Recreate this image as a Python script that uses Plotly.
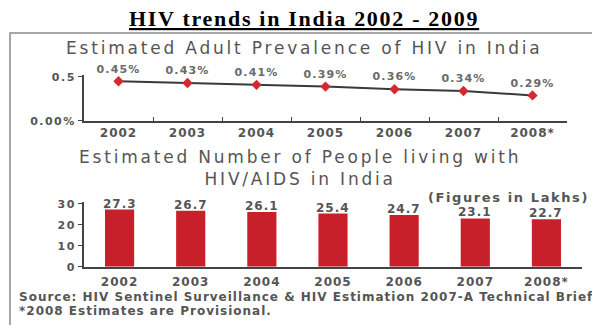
import plotly.graph_objects as go

W, H = 592, 325

years = ["2002", "2003", "2004", "2005", "2006", "2007", "2008*"]
prevalence = [0.45, 0.43, 0.41, 0.39, 0.36, 0.34, 0.29]
prevalence_labels = ["0.45%", "0.43%", "0.41%", "0.39%", "0.36%", "0.34%", "0.29%"]
plhiv = [27.3, 26.7, 26.1, 25.4, 24.7, 23.1, 22.7]
plhiv_labels = ["27.3", "26.7", "26.1", "25.4", "24.7", "23.1", "22.7"]
prev_ticks = [0, 0.5]
prev_ticktext = ["0.00%", "0.5"]
bar_ticks = [0, 10, 20, 30]
bar_ticktext = ["0", "10", "20", "30"]

GREY = "#555555"
AXIS = "#444444"
FONT = "DejaVu Sans"


def sp(text, s):
    return f"<span style='letter-spacing:{s}px'>{text}</span>"


def px_x(x):
    return x / W


def px_y(y):
    return (H - y) / H


fig = go.Figure()

fig.add_trace(go.Scatter(
    x=years, y=prevalence, mode="lines+markers+text",
    text=[sp(t, 1.2) for t in prevalence_labels], textposition="top center",
    textfont=dict(family=FONT, size=11, color="#6a6a6a", weight="bold"),
    line=dict(color="#3a3a3a", width=2),
    marker=dict(symbol="diamond", size=8, color="#d42a2f"),
    xaxis="x", yaxis="y", cliponaxis=False,
))

fig.add_trace(go.Bar(
    x=years, y=plhiv,
    marker=dict(color="#c8202a", line=dict(width=0)),
    xaxis="x2", yaxis="y2",
))

# value labels sitting on top of the bars, positioned through the bar axes
# (category axis: annotation x given as the category's serial index)
for i, (v, lab) in enumerate(zip(plhiv, plhiv_labels)):
    fig.add_annotation(x=i, y=v, xref="x2", yref="y2", text=sp(lab, 1),
                       showarrow=False, yanchor="bottom", yshift=-3,
                       font=dict(family=FONT, size=12, color=GREY, weight="bold"))

axis_common = dict(showgrid=False, zeroline=False, showline=True,
                   linecolor=AXIS, linewidth=2, tickcolor=AXIS)
xtick = dict(family=FONT, size=12, color=GREY, weight="bold")
ytick = dict(family=FONT, size=11, color=GREY, weight="bold")
year_ticktext = [sp(t, 1) for t in years]

fig.update_layout(
    width=W, height=H,
    margin=dict(l=0, r=0, t=0, b=0),
    paper_bgcolor="white", plot_bgcolor="white",
    showlegend=False,
    bargap=0.59,
    xaxis=dict(domain=[px_x(84), px_x(567)], anchor="y", type="category",
               range=[-0.5, 6.5], ticks="inside", tickson="boundaries",
               ticklen=4, tickvals=years, ticktext=year_ticktext,
               tickfont=xtick, **axis_common),
    yaxis=dict(domain=[px_y(121), px_y(73)], anchor="x", range=[0, 0.527],
               tickvals=prev_ticks, ticktext=[sp(t, 1.5) for t in prev_ticktext],
               ticks="outside", ticklen=4, tickfont=ytick, **axis_common),
    xaxis2=dict(domain=[px_x(84), px_x(582)], anchor="y2", type="category",
                range=[-0.5, 6.5], ticks="", tickvals=years,
                ticktext=year_ticktext, tickfont=xtick, ticklabelstandoff=3,
                **axis_common),
    yaxis2=dict(domain=[px_y(272), px_y(205)], anchor="x2", range=[0, 30.9],
                tickvals=bar_ticks, ticktext=[sp(t, 1.5) for t in bar_ticktext],
                ticks="outside", ticklen=4, tickfont=ytick, **axis_common),
)

fig.add_shape(type="rect", xref="paper", yref="paper",
              x0=px_x(10), x1=1.05, y0=-0.1, y1=px_y(30),
              line=dict(color="#8a8a8a", width=1.5), fillcolor="rgba(0,0,0,0)",
              layer="below")

ann = [
    dict(text="<u><b>" + sp("HIV trends in India 2002 - 2009", 1.7) + "</b></u>",
         x=px_x(304), y=px_y(15),
         font=dict(family="Liberation Serif", size=22, color="black")),
    dict(text=sp("Estimated Adult Prevalence of HIV in India", 2.8),
         x=px_x(304), y=px_y(46),
         font=dict(family=FONT, size=17, color=GREY)),
    dict(text=sp("Estimated Number of People living with", 2.8) + "<br>"
         + sp("HIV/AIDS in India", 2.8),
         x=px_x(300), y=px_y(170),
         font=dict(family=FONT, size=17, color=GREY)),
    dict(text=sp("(Figures in Lakhs)", 1.6), x=px_x(508), y=px_y(200.5),
         font=dict(family=FONT, size=13, color=GREY, weight="bold")),
    dict(text=sp("Source: HIV Sentinel Surveillance &amp; HIV Estimation 2007-A Technical Brief", 1.0),
         x=px_x(17), y=px_y(303), xanchor="left",
         font=dict(family=FONT, size=12, color=GREY, weight="bold")),
    dict(text=sp("*2008 Estimates are Provisional.", 1.0),
         x=px_x(17), y=px_y(318), xanchor="left",
         font=dict(family=FONT, size=12, color=GREY, weight="bold")),
]
for a in ann:
    a.setdefault("xanchor", "center")
    fig.add_annotation(xref="paper", yref="paper", yanchor="middle",
                       showarrow=False, **a)

fig.write_html("out.html")
